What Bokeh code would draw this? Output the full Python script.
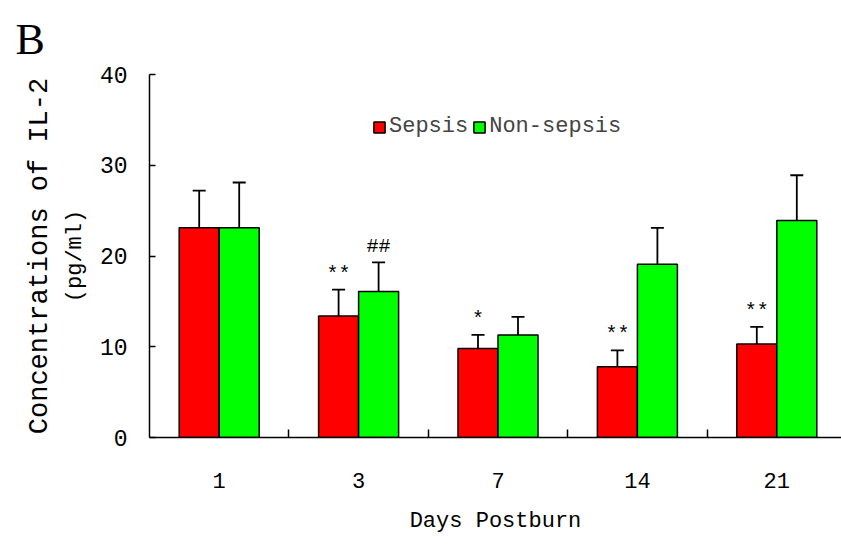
from bokeh.plotting import figure
from bokeh.models import (FixedTicker, Range1d, Legend, LegendItem, Title,
                          ColumnDataSource, Whisker, TeeHead)
from bokeh.core.properties import value
from bokeh.embed import file_html
from bokeh.resources import INLINE

# ---- data ----
days = ["1", "3", "7", "14", "21"]
sepsis = [23.1, 13.4, 9.8, 7.8, 10.3]
sepsis_err = [4.1, 2.9, 1.5, 1.8, 1.9]
nonsepsis = [23.1, 16.1, 11.3, 19.1, 23.9]
nonsepsis_err = [5.0, 3.2, 2.0, 4.0, 5.0]
sepsis_marks = ["", "**", "*", "**", "**"]
nonsepsis_marks = ["", "##", "", "", ""]
y_ticks = [0, 10, 20, 30, 40]

FONT = "Liberation Mono"
RED = "#FF0000"
GREEN = "#00FF00"
BAR_W = 0.287

n = len(days)
centers = [i + 0.5 for i in range(n)]
x_red = [c - BAR_W / 2 for c in centers]
x_green = [c + BAR_W / 2 for c in centers]

src_red = ColumnDataSource(dict(
    x=x_red, top=sepsis, upper=[v + e for v, e in zip(sepsis, sepsis_err)],
    mark=sepsis_marks))
src_green = ColumnDataSource(dict(
    x=x_green, top=nonsepsis, upper=[v + e for v, e in zip(nonsepsis, nonsepsis_err)],
    mark=nonsepsis_marks))

p = figure(width=841, height=544,
           x_range=Range1d(0, n * 692 / 697), y_range=Range1d(0, 40),
           output_backend="svg", toolbar_location=None,
           min_border_left=149, min_border_right=0,
           min_border_top=74, min_border_bottom=107)
p.outline_line_color = None
p.xgrid.visible = False
p.ygrid.visible = False
p.background_fill_color = "white"

r_red = p.vbar(x="x", top="top", bottom=0, width=BAR_W, source=src_red,
               fill_color=RED, line_color="black", line_width=1.5)
r_green = p.vbar(x="x", top="top", bottom=0, width=BAR_W, source=src_green,
                 fill_color=GREEN, line_color="black", line_width=1.5)

for src in (src_red, src_green):
    w = Whisker(base="x", lower="top", upper="upper", source=src,
                line_color="black", line_width=1.8,
                lower_head=None,
                upper_head=TeeHead(size=13, line_color="black", line_width=1.8))
    p.add_layout(w)
    p.text(x="x", y="upper", text="mark", source=src,
           text_font=value(FONT), text_font_size="20px",
           text_align="center", text_baseline="bottom",
           y_offset=-4, text_color="black")

# axes
xa = p.xaxis[0]
xa.ticker = FixedTicker(ticks=centers, minor_ticks=[i for i in range(1, n)])
xa.major_label_overrides = {c: d for c, d in zip(centers, days)}
xa.major_tick_line_color = None
xa.minor_tick_in = 8
xa.minor_tick_out = 0
xa.minor_tick_line_width = 1.5
xa.minor_tick_line_color = "black"
xa.axis_line_width = 1.5
xa.axis_line_color = "black"
xa.major_label_text_font = FONT
xa.major_label_text_font_size = "22px"
xa.major_label_text_color = "black"
xa.major_label_standoff = 29
xa.axis_label = "Days Postburn"
xa.axis_label_text_font = FONT
xa.axis_label_text_font_size = "22px"
xa.axis_label_text_font_style = "normal"
xa.axis_label_text_color = "black"
xa.axis_label_standoff = 18

ya = p.yaxis[0]
ya.ticker = FixedTicker(ticks=y_ticks)
ya.major_tick_in = 6
ya.major_tick_out = 0
ya.major_tick_line_width = 1.5
ya.minor_tick_line_color = None
ya.axis_line_width = 1.5
ya.axis_line_color = "black"
ya.major_label_text_font = FONT
ya.major_label_text_font_size = "23px"
ya.major_label_text_color = "black"
ya.major_label_standoff = 22
ya.axis_label = "(pg/ml)"
ya.axis_label_text_font = FONT
ya.axis_label_text_font_size = "22px"
ya.axis_label_text_font_style = "normal"
ya.axis_label_text_color = "black"
ya.axis_label_standoff = 9

p.add_layout(Title(text="Concentrations of IL-2", align="center",
                   text_font=FONT, text_font_size="27px",
                   text_font_style="normal", text_color="black",
                   standoff=10), "left")

p.title.text = "B"
p.title.align = "left"
p.title.offset = -134
p.title.text_font = "Liberation Serif"
p.title.text_font_size = "44px"
p.title.text_font_style = "normal"
p.title.text_color = "black"
p.title.standoff = 21

legend = Legend(items=[LegendItem(label="Sepsis", renderers=[r_red]),
                       LegendItem(label="Non-sepsis", renderers=[r_green])],
                orientation="horizontal", location=(223, 298),
                border_line_alpha=0, background_fill_alpha=0,
                label_text_font=FONT, label_text_font_size="22px",
                glyph_width=14, glyph_height=14, label_standoff=3,
                spacing=4, padding=0, margin=0, label_height=14)
p.add_layout(legend)

open("out.html", "w").write(file_html(p, INLINE))
